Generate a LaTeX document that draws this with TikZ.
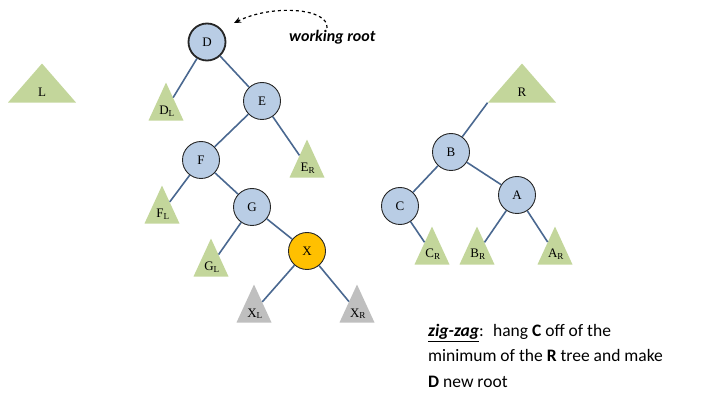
\documentclass[tikz,border=0pt]{standalone}
\usepackage{fontspec}
\setmainfont{Liberation Serif}
\newfontfamily\notefont{Carlito}
\usetikzlibrary{shapes.geometric,arrows.meta}

\definecolor{nodeblue}{RGB}{185,205,229}
\definecolor{edgeblue}{RGB}{74,104,144}
\definecolor{subgreen}{RGB}{195,214,155}
\definecolor{subgray}{RGB}{191,191,191}
\definecolor{xorange}{RGB}{255,192,0}

\tikzset{
  vert/.style={circle,draw=black!85,line width=0.9pt,fill=nodeblue,minimum size=37pt,inner sep=0pt,font=\fontsize{13}{15}\selectfont},
  subtree/.style={isosceles triangle,isosceles triangle stretches,shape border rotate=90,
    fill=subgreen,draw=none,anchor=apex,inner sep=0pt,minimum width=35pt,minimum height=38pt},
  bigtree/.style={subtree,minimum width=68pt,minimum height=39pt},
  tlab/.style={anchor=base,inner sep=0pt,font=\fontsize{13}{15}\selectfont},
  link/.style={draw=edgeblue,line width=1.6pt}
}

\begin{document}
\begin{tikzpicture}[x=1pt,y=-1pt]
  \useasboundingbox (0,0) rectangle (710,406);

  % tree being split
  \node[vert,line width=1.8pt] (d) at (207,42) {D};
  \node[vert] (e) at (262,101) {E};
  \node[vert] (f) at (201,160) {F};
  \node[vert] (g) at (252,207) {G};
  \node[vert,fill=xorange] (x) at (307,251) {X};

  % right tree
  \node[vert] (b) at (451,152) {B};
  \node[vert] (c) at (400,206) {C};
  \node[vert] (a) at (517,195) {A};

  % subtrees
  \node[bigtree] (l) at (42,63) {};
  \node[bigtree] (r) at (522,63) {};
  \node[subtree] (dl) at (166,82) {};
  \node[subtree] (er) at (307,139) {};
  \node[subtree] (fl) at (162,185) {};
  \node[subtree] (gl) at (211,238) {};
  \node[subtree,fill=subgray] (xl) at (254,284) {};
  \node[subtree,fill=subgray] (xr) at (357,284) {};
  \node[subtree] (cr) at (432,226) {};
  \node[subtree] (br) at (477,226) {};
  \node[subtree] (ar) at (555,226) {};

  \node[tlab] (ltxt) at (42,97) {L};
  \node[tlab] (rtxt) at (522,97) {R};
  \node[tlab] (dltxt) at (167,115) {D\textsubscript{L}};
  \node[tlab] (ertxt) at (308,172) {E\textsubscript{R}};
  \node[tlab] (fltxt) at (163,218) {F\textsubscript{L}};
  \node[tlab] (gltxt) at (212,271) {G\textsubscript{L}};
  \node[tlab] (xltxt) at (255,317) {X\textsubscript{L}};
  \node[tlab] (xrtxt) at (358,317) {X\textsubscript{R}};
  \node[tlab] (crtxt) at (433,258) {C\textsubscript{R}};
  \node[tlab] (brtxt) at (478,258) {B\textsubscript{R}};
  \node[tlab] (artxt) at (556,258) {A\textsubscript{R}};

  \foreach \from/\to in {d/dl,d/e,e/f,e/er,f/fl,f/g,g/gl,g/x,x/xl,x/xr,
                         b/c,b/a,c/cr,a/br,a/ar}
    \draw[link] (\from) -- (\to);
  \draw[link] (b) -- (r.left corner);

  % working root pointer
  \node[anchor=base west,inner sep=0pt,font=\notefont\fontsize{16}{18}\selectfont\bfseries\itshape] (wr) at (289,42) {working root};
  \coordinate (wrtail) at (327,28);
  \coordinate (wrhead) at (234,23);
  \draw[dashed,line width=1.2pt,-{Stealth[length=7pt,width=6pt]}] (wrtail) .. controls (329,8) and (272,4) .. (wrhead);

  % note
  \node[anchor=north west,inner sep=0pt,align=left,font=\notefont\fontsize{17.5}{25.5}\selectfont] (note) at (428,324)
    {\underline{\textbf{\textit{zig-zag}}}:~ hang \textbf{C} off of the\\
     minimum of the \textbf{R} tree and make\\
     \textbf{D} new root};
\end{tikzpicture}
\end{document}
